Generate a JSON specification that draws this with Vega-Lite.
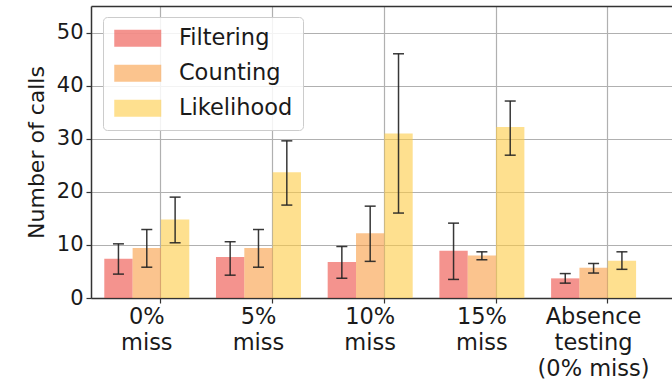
{
  "$schema": "https://vega.github.io/schema/vega-lite/v6.json",
  "width": 581,
  "height": 292,
  "autosize": {"type": "none"},
  "padding": {"left": 91, "top": 6, "right": 0, "bottom": 84},
  "config": {
    "font": "DejaVu Sans",
    "view": {"stroke": null},
    "legend": {
      "orient": "none",
      "legendX": 12,
      "legendY": 11,
      "padding": 10,
      "rowPadding": 12,
      "labelOffset": 43.4,
      "labelFontSize": 22.5,
      "labelColor": "#1a1a1a",
      "symbolType": "M-1,-0.85L3.7,-0.85L3.7,0.85L-1,0.85Z",
      "symbolSize": 400,
      "symbolStrokeWidth": 0,
      "strokeColor": "#cccccc",
      "fillColor": "rgba(255,255,255,0.85)",
      "cornerRadius": 4
    }
  },
  "data": {
    "values": [
      {"group": "0%\nmiss", "series": "Filtering", "value": 7.4, "lo": 4.5, "hi": 10.2},
      {"group": "0%\nmiss", "series": "Counting", "value": 9.4, "lo": 5.8, "hi": 12.9},
      {"group": "0%\nmiss", "series": "Likelihood", "value": 14.8, "lo": 10.4, "hi": 19.0},
      {"group": "5%\nmiss", "series": "Filtering", "value": 7.7, "lo": 4.3, "hi": 10.6},
      {"group": "5%\nmiss", "series": "Counting", "value": 9.4, "lo": 5.8, "hi": 12.9},
      {"group": "5%\nmiss", "series": "Likelihood", "value": 23.7, "lo": 17.5, "hi": 29.6},
      {"group": "10%\nmiss", "series": "Filtering", "value": 6.8, "lo": 3.7, "hi": 9.7},
      {"group": "10%\nmiss", "series": "Counting", "value": 12.2, "lo": 6.9, "hi": 17.3},
      {"group": "10%\nmiss", "series": "Likelihood", "value": 31.0, "lo": 16.0, "hi": 46.0},
      {"group": "15%\nmiss", "series": "Filtering", "value": 8.9, "lo": 3.5, "hi": 14.1},
      {"group": "15%\nmiss", "series": "Counting", "value": 8.0, "lo": 7.2, "hi": 8.7},
      {"group": "15%\nmiss", "series": "Likelihood", "value": 32.2, "lo": 26.9, "hi": 37.1},
      {"group": "Absence\ntesting\n(0% miss)", "series": "Filtering", "value": 3.7, "lo": 2.8, "hi": 4.6},
      {"group": "Absence\ntesting\n(0% miss)", "series": "Counting", "value": 5.7, "lo": 4.7, "hi": 6.5},
      {"group": "Absence\ntesting\n(0% miss)", "series": "Likelihood", "value": 7.0, "lo": 5.4, "hi": 8.7}
    ]
  },
  "resolve": {"axis": {"x": "independent"}},
  "layer": [
    {
      "mark": {"type": "bar", "opacity": 0.6},
      "encoding": {
        "x": {
          "field": "group", "type": "nominal",
          "sort": ["0%\nmiss", "5%\nmiss", "10%\nmiss", "15%\nmiss", "Absence\ntesting\n(0% miss)"],
          "scale": {"type": "band", "paddingInner": 0.239, "paddingOuter": 0.2202, "align": 0.27},
          "axis": {
            "orient": "bottom", "title": null, "labelAngle": 0,
            "bandPosition": 0.6667,
            "labelExpr": "split(datum.label, '\\n')",
            "labelFontSize": 22.5, "labelLineHeight": 26, "labelColor": "#1a1a1a",
            "labelPadding": 2, "tickSize": 5, "tickColor": "#333333", "tickWidth": 1.2,
            "domainColor": "#333333", "domainWidth": 1.5,
            "grid": true, "gridColor": "#b0b0b0", "gridWidth": 1.2
          }
        },
        "xOffset": {
          "field": "series", "type": "nominal",
          "sort": ["Filtering", "Counting", "Likelihood"],
          "scale": {"paddingInner": 0, "paddingOuter": 0}
        },
        "y": {
          "field": "value", "type": "quantitative",
          "scale": {"domain": [0, 55], "nice": false},
          "axis": {
            "title": "Number of calls", "titleFontSize": 22, "titleFontWeight": "normal",
            "titleColor": "#1a1a1a", "titlePadding": 8,
            "values": [0, 10, 20, 30, 40, 50],
            "labelFontSize": 21, "labelColor": "#1a1a1a", "labelPadding": 3,
            "tickSize": 5, "tickColor": "#333333", "tickWidth": 1.2,
            "domainColor": "#333333", "domainWidth": 1.5,
            "grid": true, "gridColor": "#b0b0b0", "gridWidth": 1.2
          }
        },
        "color": {
          "field": "series", "type": "nominal",
          "sort": ["Filtering", "Counting", "Likelihood"],
          "scale": {"domain": ["Filtering", "Counting", "Likelihood"], "range": ["#ed4b43", "#f89d43", "#fdcb44"]},
          "legend": {"title": null}
        }
      }
    },
    {
      "mark": {"type": "rule", "color": "#222222", "strokeWidth": 1.5, "opacity": 0.9},
      "encoding": {
        "x": {
          "field": "group", "type": "nominal",
          "sort": ["0%\nmiss", "5%\nmiss", "10%\nmiss", "15%\nmiss", "Absence\ntesting\n(0% miss)"],
          "scale": {"type": "band", "paddingInner": 0.239, "paddingOuter": 0.2202, "align": 0.27},
          "axis": {"orient": "top", "title": null, "labels": false, "ticks": false, "grid": false, "domainColor": "#333333", "domainWidth": 1.5}
        },
        "xOffset": {"field": "series", "type": "nominal", "sort": ["Filtering", "Counting", "Likelihood"]},
        "y": {"field": "lo", "type": "quantitative"},
        "y2": {"field": "hi"}
      }
    },
    {
      "mark": {"type": "tick", "color": "#222222", "thickness": 1.5, "size": 11, "opacity": 0.9},
      "encoding": {
        "x": {
          "field": "group", "type": "nominal",
          "sort": ["0%\nmiss", "5%\nmiss", "10%\nmiss", "15%\nmiss", "Absence\ntesting\n(0% miss)"],
          "axis": null
        },
        "xOffset": {"field": "series", "type": "nominal", "sort": ["Filtering", "Counting", "Likelihood"]},
        "y": {"field": "lo", "type": "quantitative"}
      }
    },
    {
      "mark": {"type": "tick", "color": "#222222", "thickness": 1.5, "size": 11, "opacity": 0.9},
      "encoding": {
        "x": {
          "field": "group", "type": "nominal",
          "sort": ["0%\nmiss", "5%\nmiss", "10%\nmiss", "15%\nmiss", "Absence\ntesting\n(0% miss)"],
          "axis": null
        },
        "xOffset": {"field": "series", "type": "nominal", "sort": ["Filtering", "Counting", "Likelihood"]},
        "y": {"field": "hi", "type": "quantitative"}
      }
    }
  ]
}
